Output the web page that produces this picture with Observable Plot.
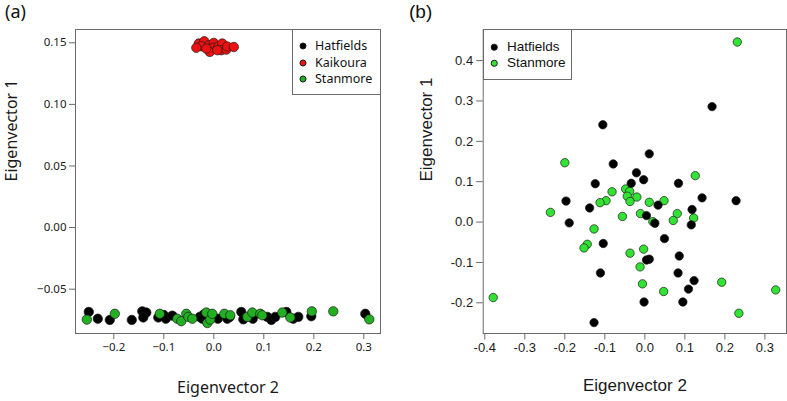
<!DOCTYPE html>
<html><head><meta charset="utf-8">
<script src="https://cdn.jsdelivr.net/npm/d3@7"></script>
<script src="https://cdn.jsdelivr.net/npm/@observablehq/plot@0.6"></script>
<style>
body{margin:0;background:#fff;}
#wrap{position:relative;width:787px;height:401px;overflow:hidden;background:#fff;}
.panel{position:absolute;top:0;}
.plab{position:absolute;top:2px;color:#111;line-height:1.1;white-space:nowrap;}
.legend{position:absolute;border:1px solid #6a6a6a;background:#fff;box-sizing:border-box;}
.legend .row{position:absolute;white-space:nowrap;color:#111;line-height:1;transform:translateY(-50%);}
.legend .sw{position:absolute;border-radius:50%;box-sizing:border-box;transform:translate(-50%,-50%);}
</style></head>
<body>
<div id="wrap"></div>
<script>
// ---------- Panel (a) data: [Eigenvector 2, Eigenvector 1] ----------
const aHatfields = [
  [-0.250,-0.0685],[-0.232,-0.074],[-0.208,-0.075],[-0.164,-0.075],[-0.143,-0.068],
  [-0.135,-0.069],[-0.141,-0.073],[-0.111,-0.073],[-0.100,-0.071],[-0.096,-0.074],
  [-0.083,-0.0715],[-0.028,-0.0725],[-0.020,-0.0705],[-0.023,-0.074],[0.008,-0.074],
  [0.027,-0.074],[0.032,-0.0725],[0.055,-0.0685],[0.059,-0.0745],[0.078,-0.074],
  [0.107,-0.0725],[0.115,-0.075],[0.123,-0.0725],[0.145,-0.0685],[0.159,-0.074],
  [0.169,-0.0725],[0.195,-0.072],[0.303,-0.070]
];
const aStanmore = [
  [-0.254,-0.0747],[-0.198,-0.070],[-0.108,-0.070],[-0.073,-0.074],[-0.065,-0.076],
  [-0.055,-0.070],[-0.051,-0.0725],[-0.043,-0.074],[-0.015,-0.069],[-0.013,-0.0775],
  [-0.007,-0.0747],[-0.003,-0.070],[0.021,-0.070],[0.033,-0.0712],[0.067,-0.0725],
  [0.077,-0.069],[0.093,-0.070],[0.097,-0.0712],[0.137,-0.069],[0.153,-0.073],
  [0.196,-0.068],[0.239,-0.068],[0.311,-0.0745]
];
const aKaikoura = [
  [-0.030,0.1494],[-0.019,0.1512],[-0.025,0.1472],[-0.035,0.146],[-0.010,0.148],
  [0.000,0.1499],[-0.001,0.146],[-0.008,0.1426],[0.009,0.147],[0.017,0.1494],
  [0.015,0.144],[0.025,0.1445],[0.027,0.147],[0.040,0.1466],[-0.015,0.1453],[0.007,0.144]
];
const aSeries = ["Hatfields","Kaikoura","Stanmore"];
const aColors = ["#000000","#ee1111","#22b022"];
const aXTicks = [-0.2,-0.1,0.0,0.1,0.2,0.3];
const aYTicks = [-0.05,0.00,0.05,0.10,0.15];
const aXDomain = [-0.2766,0.3334];
const aYDomain = [-0.0860,0.1608];

// ---------- Panel (b) data ----------
const bHatfields = [
  [0.168,0.286],[-0.105,0.241],[-0.079,0.144],[0.011,0.169],[-0.021,0.122],[-0.003,0.105],
  [-0.034,0.096],[-0.124,0.095],[0.084,0.096],[-0.197,0.052],[0.033,0.042],[0.143,0.060],
  [0.228,0.053],[0.118,0.031],[-0.138,0.035],[0.004,0.016],[-0.189,-0.002],[0.025,-0.003],
  [0.116,-0.007],[0.049,-0.041],[-0.104,-0.053],[0.086,-0.084],[0.011,-0.092],[0.004,-0.094],
  [-0.111,-0.126],[0.083,-0.126],[0.123,-0.145],[0.109,-0.166],[-0.002,-0.198],[0.095,-0.198],
  [-0.127,-0.249]
];
const bStanmore = [
  [0.231,0.446],[-0.200,0.147],[0.126,0.115],[-0.048,0.082],[-0.038,0.076],[-0.082,0.075],
  [-0.044,0.064],[-0.020,0.062],[-0.037,0.051],[0.011,0.049],[0.048,0.053],[-0.097,0.053],
  [-0.112,0.048],[-0.236,0.024],[-0.056,0.014],[-0.011,0.021],[0.081,0.021],[-0.127,-0.017],
  [0.020,0.001],[0.071,0.004],[0.122,0.010],[-0.144,-0.055],[-0.152,-0.064],[-0.037,-0.077],
  [-0.003,-0.067],[-0.012,-0.111],[-0.006,-0.153],[0.192,-0.149],[0.047,-0.172],[0.327,-0.168],
  [-0.379,-0.187],[0.235,-0.226]
];
const bSeries = ["Hatfields","Stanmore"];
const bColors = ["#000000","#33e333"];
const bXTicks = [-0.4,-0.3,-0.2,-0.1,0.0,0.1,0.2,0.3];
const bYTicks = [-0.2,-0.1,0.0,0.1,0.2,0.3,0.4];
const bXDomain = [-0.404,0.354];
const bYDomain = [-0.276,0.477];

const xLabel = "Eigenvector 2", yLabel = "Eigenvector 1";

const toRows = (pts, g) => pts.map(([x, y]) => ({x, y, g}));
const wrap = document.getElementById("wrap");

// ---------- Panel (a) ----------
const fontA = "'Noto Sans', 'Open Sans', sans-serif";
const dataA = [...toRows(aHatfields,"Hatfields"), ...toRows(aStanmore,"Stanmore"), ...toRows(aKaikoura,"Kaikoura")];
const plotA = Plot.plot({
  width: 390, height: 401,
  marginLeft: 75, marginRight: 10, marginTop: 29, marginBottom: 68,
  style: {fontFamily: fontA, fontSize: "11.5px", color: "#1a1a1a", background: "transparent"},
  x: {domain: aXDomain},
  y: {domain: aYDomain},
  color: {domain: aSeries, range: aColors},
  marks: [
    Plot.frame({stroke: "#6a6a6a"}),
    Plot.axisX({ticks: aXTicks, tickFormat: d3.format(".1f"), tickSize: 6, tickPadding: 3, stroke: "#6a6a6a", fill: "#1a1a1a", label: null}),
    Plot.axisY({ticks: aYTicks, tickFormat: d3.format(".2f"), tickSize: 6, tickPadding: 3, stroke: "#6a6a6a", fill: "#1a1a1a", label: null}),
    Plot.dot(dataA, {x: "x", y: "y", r: 4.7, fill: "g", stroke: "#1a1a1a", strokeWidth: 0.7}),
    Plot.text([xLabel], {text: d => d, frameAnchor: "bottom", dy: 59, fontSize: 16, fill: "#1a1a1a"}),
    Plot.text([yLabel], {text: d => d, frameAnchor: "left", rotate: -90, dx: -64, fontSize: 16, fill: "#1a1a1a"})
  ]
});
plotA.classList.add("panel");
plotA.style.left = "0px";
wrap.appendChild(plotA);

// ---------- Panel (b) ----------
const fontB = "'Liberation Sans', Arial, sans-serif";
const dataB = [...toRows(bStanmore,"Stanmore"), ...toRows(bHatfields,"Hatfields")];
const plotB = Plot.plot({
  width: 397, height: 401,
  marginLeft: 92.7, marginRight: 1, marginTop: 29, marginBottom: 68,
  style: {fontFamily: fontB, fontSize: "13px", color: "#1a1a1a", background: "transparent"},
  x: {domain: bXDomain},
  y: {domain: bYDomain},
  color: {domain: bSeries, range: bColors},
  marks: [
    Plot.frame({stroke: "#6a6a6a"}),
    Plot.axisX({ticks: bXTicks, tickFormat: d => d.toFixed(1), tickSize: 6.5, tickPadding: 3, stroke: "#6a6a6a", fill: "#1a1a1a", label: null}),
    Plot.axisY({ticks: bYTicks, tickFormat: d => d.toFixed(1), tickSize: 6.5, tickPadding: 3.5, stroke: "#6a6a6a", fill: "#1a1a1a", label: null}),
    Plot.dot(dataB, {x: "x", y: "y", r: 4.2, fill: "g", stroke: "#1a1a1a", strokeWidth: 0.7}),
    Plot.text([xLabel], {text: d => d, frameAnchor: "bottom", dy: 57, fontSize: 17, fill: "#1a1a1a"}),
    Plot.text([yLabel], {text: d => d, frameAnchor: "left", rotate: -90, dx: -57, fontSize: 17, fill: "#1a1a1a"})
  ]
});
plotB.classList.add("panel");
plotB.style.left = "390px";
wrap.appendChild(plotB);

// ---------- Panel labels ----------
function addLabel(txt, left, font, size) {
  const d = document.createElement("div");
  d.className = "plab";
  d.textContent = txt;
  d.style.left = left + "px";
  d.style.fontFamily = font;
  d.style.fontSize = size + "px";
  wrap.appendChild(d);
}
addLabel("(a)", 5, fontA, 18);
addLabel("(b)", 409, fontB, 19);

// ---------- Legends ----------
function addLegend(names, colors, box, font, size, rowY, dotX, textX, dotD) {
  const lg = document.createElement("div");
  lg.className = "legend";
  Object.assign(lg.style, {left: box[0] + "px", top: box[1] + "px", width: box[2] + "px", height: box[3] + "px", fontFamily: font, fontSize: size + "px"});
  names.forEach((n, i) => {
    const sw = document.createElement("div");
    sw.className = "sw";
    Object.assign(sw.style, {left: dotX + "px", top: rowY[i] + "px", width: dotD + "px", height: dotD + "px", background: colors[i], border: "0.7px solid #1a1a1a"});
    lg.appendChild(sw);
    const t = document.createElement("div");
    t.className = "row";
    t.textContent = n;
    Object.assign(t.style, {left: textX + "px", top: rowY[i] + "px"});
    lg.appendChild(t);
  });
  wrap.appendChild(lg);
}
addLegend(aSeries, aColors, [292, 29, 88.5, 66], fontA, 12.5, [16, 33, 49], 10, 22, 7);
addLegend(bSeries, bColors, [483, 29, 89, 51], fontB, 13.5, [17, 33], 10, 23, 6.5);
</script>
</body></html>
